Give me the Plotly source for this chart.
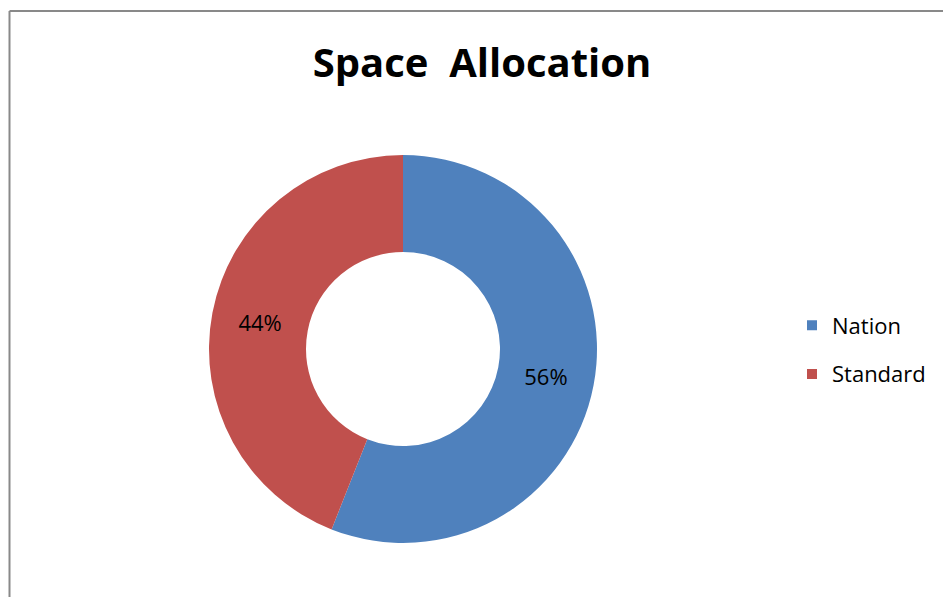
import plotly.graph_objects as go

labels = ["Nation", "Standard"]
values = [56, 44]
colors = ["#4F81BD", "#C0504D"]
title_text = "Space  Allocation"

W, H = 943, 597
cx, cy, r = 403, 349, 194

fig = go.Figure()
fig.add_trace(go.Pie(
    labels=labels,
    values=values,
    hole=0.5,
    sort=False,
    direction="clockwise",
    rotation=0,
    marker=dict(colors=colors, line=dict(width=0)),
    texttemplate="%{percent:.0%}",
    textposition="inside",
    insidetextorientation="horizontal",
    textfont=dict(family="Open Sans", size=22, color="#000000"),
    domain=dict(x=[(cx - r) / W, (cx + r) / W], y=[(H - cy - r) / H, (H - cy + r) / H]),
    showlegend=False,
    hoverinfo="label+percent",
))

# legend entries (one group per category so they can be spaced like the original)
for i, (lab, col) in enumerate(zip(labels, colors)):
    fig.add_trace(go.Scatter(
        x=[None], y=[None], mode="markers", name=lab,
        marker=dict(symbol="square", size=10, color=col),
        legendgroup=lab, showlegend=True, hoverinfo="skip",
    ))

fig.update_layout(
    width=W, height=H,
    margin=dict(l=0, r=0, t=0, b=0),
    paper_bgcolor="white",
    plot_bgcolor="white",
    xaxis=dict(visible=False),
    yaxis=dict(visible=False),
    title=dict(text="<b>" + title_text + "</b>", x=482 / W, xanchor="center",
               y=1 - 63 / H, yanchor="middle",
               font=dict(family="Open Sans", size=40, color="#000000")),
    legend=dict(x=792 / W, xanchor="left", y=1 - 350 / H, yanchor="middle",
                font=dict(family="Open Sans", size=22, color="#000000"),
                itemwidth=30, tracegroupgap=17, bgcolor="rgba(0,0,0,0)"),
    shapes=[
        dict(type="line", xref="paper", yref="paper", x0=9.5 / W, x1=9.5 / W,
             y0=0, y1=1 - 11 / H, line=dict(color="#898989", width=2)),
        dict(type="line", xref="paper", yref="paper", x0=9.5 / W, x1=1,
             y0=1 - 11 / H, y1=1 - 11 / H, line=dict(color="#898989", width=2)),
    ],
)

fig.write_html("out.html", config={"displayModeBar": False},
               post_script="document.body.style.margin='0';")
